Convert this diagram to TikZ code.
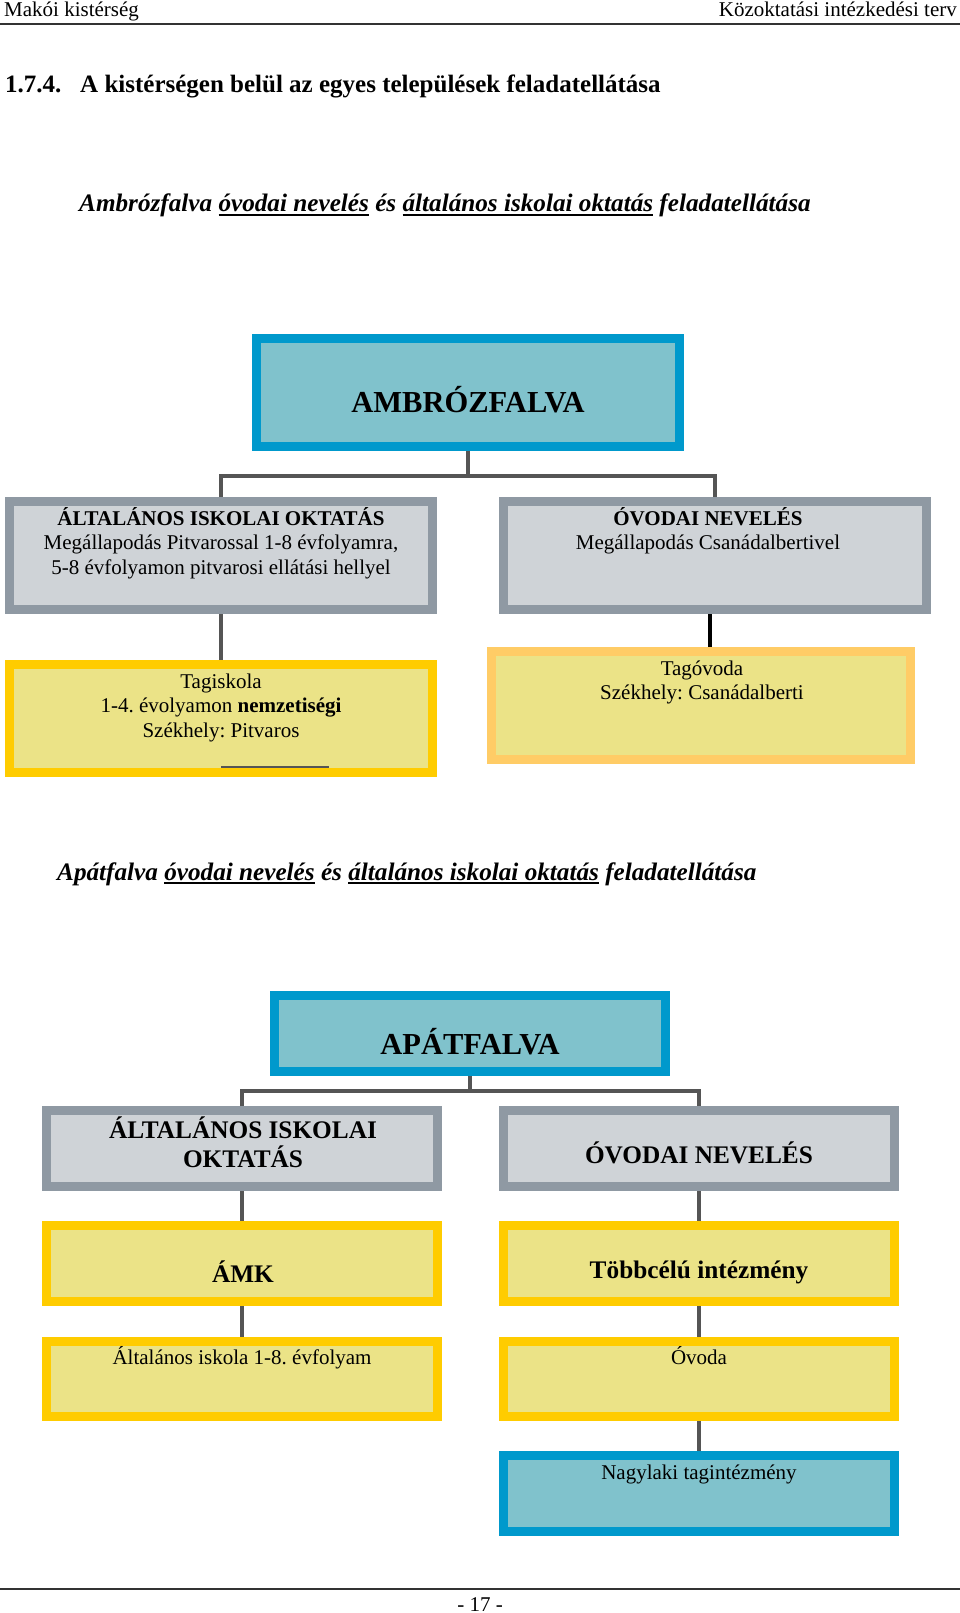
\documentclass[tikz,border=0pt]{standalone}
\usepackage{fontspec}
\setmainfont{Liberation Serif}
\frenchspacing

\definecolor{blueBand}{RGB}{0,153,204}
\definecolor{blueFill}{RGB}{128,194,204}
\definecolor{grayBand}{RGB}{143,153,163}
\definecolor{grayFill}{RGB}{207,211,215}
\definecolor{yellowBand}{RGB}{255,204,0}
\definecolor{yellowFill}{RGB}{235,227,135}
\definecolor{orangeBand}{RGB}{255,204,102}
\definecolor{linkGray}{RGB}{85,85,85}

\newcommand{\ulword}[1]{\setbox0=\hbox{#1}\rlap{\rule[-4pt]{\wd0}{2.2pt}}\box0\relax}
\newcommand{\topStrut}{\rule{0pt}{24pt}}

\begin{document}
\begin{tikzpicture}[x=1pt,y=-1pt,%%
  boxStyle/.style={draw,line width=9pt,inner sep=0pt},
  blueBox/.style={boxStyle,draw=blueBand,fill=blueFill},
  grayBox/.style={boxStyle,draw=grayBand,fill=grayFill},
  yellowBox/.style={boxStyle,draw=yellowBand,fill=yellowFill},
  orangeBox/.style={boxStyle,draw=orangeBand,fill=yellowFill},
  bigBox/.style={minimum width=423pt,minimum height=108pt},
  smallBox/.style={minimum width=391pt,minimum height=76pt},
  linkStyle/.style={draw=linkGray,line width=4pt},
  textStyle/.style={inner sep=0pt,align=center,font=\fontsize{21}{24.5}\selectfont},
  titleStyle/.style={inner sep=0pt,font=\bfseries\fontsize{30.5}{34}\selectfont},
  headStyle/.style={inner sep=0pt,align=center,font=\bfseries\fontsize{25.3}{29}\selectfont},
  italStyle/.style={inner sep=0pt,anchor=base west,font=\bfseries\itshape\fontsize{25.2}{30}\selectfont}
]
\useasboundingbox (0,0) rectangle (960,1613);
%%
%% Page header.
\node[textStyle,anchor=base west] (headLeft) at (4,17) {Makói kistérség};
\node[textStyle,anchor=base east] (headRight) at (957,17) {Közoktatási intézkedési terv};
\draw[line width=2pt,black!80] (0,24) -- (960,24);
\node[inner sep=0pt,anchor=base west,font=\bfseries\fontsize{25}{29}\selectfont] (secTitle)
  at (5,93) {\makebox[75pt][l]{1.7.4.}A kistérségen belül az egyes települések feladatellátása};
%%
%% Ambrózfalva.
\node[italStyle] (ambroHead) at (79,212)
  {Ambrózfalva \ulword{óvodai nevelés} és \ulword{általános iskolai oktatás} feladatellátása};
\node[blueBox,bigBox] (ambro) at (468,392) {};
\node[grayBox,bigBox] (ambroIsk) at (221,555.5) {};
\node[grayBox,bigBox] (ambroOvi) at (715,555.5) {};
\node[yellowBox,bigBox] (ambroTag) at (221,718) {};
\node[orangeBox,bigBox,minimum width=419pt] (ambroTagOvi) at (701,705.5) {};
%% Texts of the boxes.
\node[titleStyle,anchor=base] (ambroText) at (468,412) {AMBRÓZFALVA};
\node[textStyle,anchor=north] (ambroIskText) at (221,501)
  {\topStrut\textbf{ÁLTALÁNOS ISKOLAI OKTATÁS}\\Megállapodás Pitvarossal 1-8 évfolyamra,\\5-8 évfolyamon pitvarosi ellátási hellyel};
\node[textStyle,anchor=north] (ambroOviText) at (708,501)
  {\topStrut\textbf{ÓVODAI NEVELÉS}\\Megállapodás Csanádalbertivel};
\node[textStyle,anchor=north] (ambroTagText) at (221,664)
  {\topStrut Tagiskola\\1-4. évolyamon \textbf{nemzetiségi}\\Székhely: Pitvaros};
\node[textStyle,anchor=north] (ambroTagOviText) at (702,651)
  {\topStrut Tagóvoda\\Székhely: Csanádalberti};
\draw[linkGray,line width=1.5pt] (221,767) -- (329,767);
%% Connectors.
\coordinate (ambroBar) at (468,476);
\path (ambroOvi.south) ++(-5,0) coordinate (ambroOviLink);
\draw[linkStyle] (ambro.south) -- (ambroBar);
\draw[linkStyle] (ambroIsk.north) |- (ambroBar) -| (ambroOvi.north);
\draw[linkStyle] (ambroIsk.south) -- (ambroTag.north);
\draw[linkStyle,draw=black] (ambroOviLink) -- (ambroOviLink |- ambroTagOvi.north);
%%
%% Apátfalva.
\node[italStyle] (apatHead) at (57,880)
  {Apátfalva \ulword{óvodai nevelés} és \ulword{általános iskolai oktatás} feladatellátása};
\node[blueBox,smallBox] (apat) at (470,1033.5) {};
\node[grayBox,smallBox] (apatIsk) at (242,1148.5) {};
\node[grayBox,smallBox] (apatOvi) at (698.5,1148.5) {};
\node[yellowBox,smallBox] (apatAmk) at (242,1263.5) {};
\node[yellowBox,smallBox] (apatTobb) at (698.5,1263.5) {};
\node[yellowBox,smallBox,minimum height=75pt] (apatAltIsk) at (242,1379) {};
\node[yellowBox,smallBox,minimum height=75pt] (apatOvoda) at (698.5,1379) {};
\node[blueBox,smallBox] (apatNagy) at (698.5,1493.5) {};
%% Texts of the boxes.
\node[titleStyle,anchor=base] (apatText) at (470,1054) {APÁTFALVA};
\node[headStyle,anchor=north] (apatIskText) at (243,1114) {\topStrut ÁLTALÁNOS ISKOLAI\\OKTATÁS};
\node[headStyle,anchor=base] (apatOviText) at (699,1163) {ÓVODAI NEVELÉS};
\node[headStyle,anchor=base] (apatAmkText) at (243,1282) {ÁMK};
\node[headStyle,anchor=base] (apatTobbText) at (699,1278) {Többcélú intézmény};
\node[textStyle,anchor=base] (apatAltIskText) at (242,1364) {Általános iskola 1-8. évfolyam};
\node[textStyle,anchor=base] (apatOvodaText) at (699,1364) {Óvoda};
\node[textStyle,anchor=base] (apatNagyText) at (699,1479) {Nagylaki tagintézmény};
%% Connectors.
\coordinate (apatBar) at (470,1091);
\draw[linkStyle] (apat.south) -- (apatBar);
\draw[linkStyle] (apatIsk.north) |- (apatBar) -| (apatOvi.north);
\draw[linkStyle] (apatIsk.south) -- (apatAmk.north);
\draw[linkStyle] (apatAmk.south) -- (apatAltIsk.north);
\draw[linkStyle] (apatOvi.south) -- (apatTobb.north);
\draw[linkStyle] (apatTobb.south) -- (apatOvoda.north);
\draw[linkStyle] (apatOvoda.south) -- (apatNagy.north);
%%
%% Page footer.
\draw[line width=2pt,black!80] (0,1589) -- (960,1589);
\node[textStyle,anchor=base] (pageNum) at (480,1611) {- 17 -};
\end{tikzpicture}
\end{document}
